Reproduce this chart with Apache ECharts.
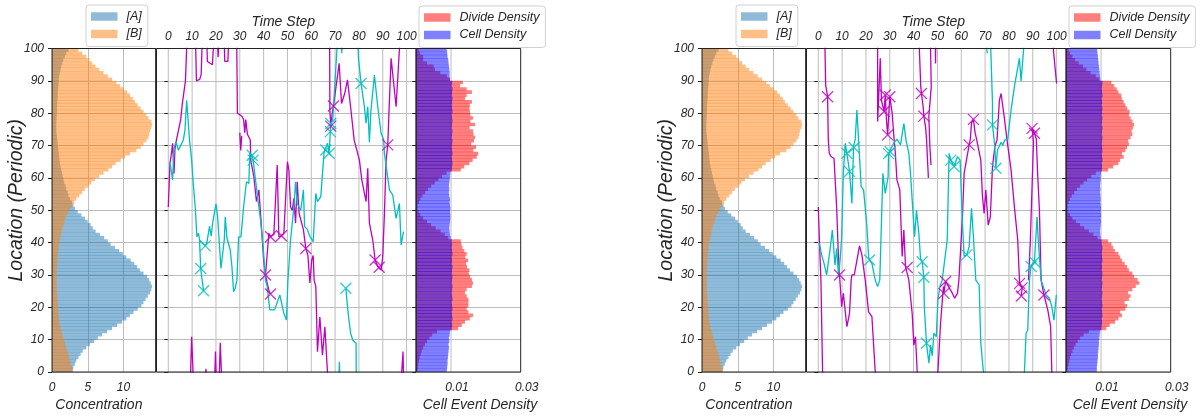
<!DOCTYPE html>
<html>
<head>
<meta charset="utf-8">
<script src="https://cdn.jsdelivr.net/npm/echarts@6/dist/echarts.min.js"></script>
<style>
    html, body { margin: 0; background: #fff; }
    #chart { width: 1201px; height: 418px; }
</style>
</head>
<body>
<div id="chart"></div>
<script>
// location bins 0..99 (one bar per unit of location)
const locBins = Array.from({ length: 100 }, (_, i) => i)
const timeTicks = [0, 10, 20, 30, 40, 50, 60, 70, 80, 90, 100]
const densTicks = [0.01, 0.03]

const concA = [2.9, 3.0, 3.2, 3.4, 3.7, 4.0, 4.3, 4.8, 5.3, 5.9,
    6.4, 7.0, 7.7, 8.4, 9.1, 9.8, 10.4, 10.9, 11.4, 12.0,
    12.5, 12.8, 13.1, 13.4, 13.7, 13.9, 14.0, 13.8, 13.6, 13.3,
    12.8, 12.3, 11.9, 11.5, 11.0, 10.4, 9.9, 9.4, 8.8, 8.2,
    7.8, 7.3, 6.7, 6.1, 5.7, 5.4, 5.0, 4.6, 4.1, 3.6,
    3.2, 3.0, 2.8, 2.5, 2.3, 2.2, 2.0, 1.9, 1.7, 1.6,
    1.5, 1.4, 1.3, 1.2, 1.1, 1.05, 1.0, 0.95, 0.9, 0.85,
    0.8, 0.75, 0.7, 0.65, 0.6, 0.6, 0.6, 0.62, 0.65, 0.67,
    0.7, 0.7, 0.72, 0.75, 0.78, 0.8, 0.82, 0.85, 0.9, 0.92,
    0.95, 1.0, 1.1, 1.2, 1.3, 1.45, 1.6, 1.8, 2.0, 2.3]

const concB = [2.9, 2.8, 2.6, 2.5, 2.4, 2.3, 2.15, 2.0, 1.85, 1.75,
    1.6, 1.45, 1.35, 1.2, 1.1, 1.0, 0.97, 0.93, 0.9, 0.87,
    0.83, 0.8, 0.78, 0.75, 0.72, 0.7, 0.68, 0.66, 0.65, 0.65,
    0.66, 0.68, 0.7, 0.73, 0.76, 0.8, 0.83, 0.87, 0.92, 0.97,
    1.05, 1.15, 1.25, 1.35, 1.45, 1.6, 1.75, 1.9, 2.05, 2.3,
    2.5, 2.8, 3.1, 3.4, 3.8, 4.2, 4.6, 5.1, 5.5, 6.0,
    6.6, 7.2, 7.9, 8.4, 8.9, 9.6, 10.2, 10.9, 11.8, 12.4,
    12.8, 13.2, 13.5, 13.6, 13.7, 13.9, 14.0, 13.9, 13.5, 13.2,
    12.8, 12.4, 12.0, 11.6, 11.3, 10.9, 10.5, 10.0, 9.5, 9.0,
    8.4, 7.8, 7.2, 6.6, 6.1, 5.6, 5.2, 4.8, 4.2, 3.7]

const leftDivide = [0.0004, 0.0005, 0.0006, 0.0008, 0.0010, 0.0013, 0.0016, 0.0020, 0.0025, 0.0031,
    0.0038, 0.0046, 0.0060, 0.0120, 0.0131, 0.0140, 0.0154, 0.0163, 0.0150, 0.0145,
    0.0150, 0.0150, 0.0150, 0.0145, 0.0140, 0.0145, 0.0160, 0.0163, 0.0160, 0.0155,
    0.0151, 0.0153, 0.0146, 0.0143, 0.0149, 0.0141, 0.0145, 0.0138, 0.0133, 0.0130,
    0.0128, 0.0092, 0.0082, 0.0070, 0.0056, 0.0043, 0.0031, 0.0020, 0.0012, 0.0007,
    0.0004, 0.0004, 0.0008, 0.0012, 0.0018, 0.0026, 0.0034, 0.0043, 0.0053, 0.0064,
    0.0074, 0.0087, 0.0128, 0.0138, 0.0153, 0.0162, 0.0174, 0.0178, 0.0164, 0.0172,
    0.0158, 0.0166, 0.0169, 0.0165, 0.0163, 0.0153, 0.0169, 0.0156, 0.0163, 0.0156,
    0.0154, 0.0153, 0.0154, 0.0160, 0.0140, 0.0145, 0.0160, 0.0145, 0.0126, 0.0134,
    0.0097, 0.0088, 0.0069, 0.0054, 0.0050, 0.0031, 0.0020, 0.0020, 0.0011, 0.0007]

const leftCell = [0.0088, 0.0089, 0.0090, 0.0090, 0.0091, 0.0092, 0.0093, 0.0094, 0.0093, 0.0095,
    0.0094, 0.0096, 0.0097, 0.0102, 0.0103, 0.0102, 0.0104, 0.0103, 0.0102, 0.0104,
    0.0103, 0.0102, 0.0104, 0.0103, 0.0102, 0.0103, 0.0104, 0.0102, 0.0103, 0.0104,
    0.0102, 0.0103, 0.0104, 0.0102, 0.0103, 0.0102, 0.0104, 0.0103, 0.0102, 0.0103,
    0.0102, 0.0099, 0.0097, 0.0096, 0.0095, 0.0096, 0.0097, 0.0098, 0.0098, 0.0097,
    0.0098, 0.0097, 0.0096, 0.0097, 0.0095, 0.0094, 0.0095, 0.0094, 0.0095, 0.0096,
    0.0097, 0.0098, 0.0102, 0.0103, 0.0104, 0.0103, 0.0102, 0.0104, 0.0103, 0.0102,
    0.0103, 0.0104, 0.0102, 0.0103, 0.0104, 0.0102, 0.0103, 0.0104, 0.0103, 0.0102,
    0.0104, 0.0103, 0.0102, 0.0103, 0.0104, 0.0102, 0.0103, 0.0104, 0.0102, 0.0103,
    0.0097, 0.0096, 0.0096, 0.0095, 0.0094, 0.0093, 0.0092, 0.0090, 0.0089, 0.0088]

const rightDivide = [0.0004, 0.0005, 0.0007, 0.0009, 0.0011, 0.0014, 0.0018, 0.0022, 0.0027, 0.0033,
    0.0040, 0.0050, 0.0065, 0.0115, 0.0125, 0.0140, 0.0150, 0.0160, 0.0155, 0.0170,
    0.0175, 0.0168, 0.0180, 0.0185, 0.0178, 0.0190, 0.0200, 0.0210, 0.0205, 0.0195,
    0.0190, 0.0180, 0.0175, 0.0168, 0.0160, 0.0155, 0.0150, 0.0140, 0.0135, 0.0130,
    0.0120, 0.0090, 0.0078, 0.0065, 0.0052, 0.0040, 0.0028, 0.0018, 0.0011, 0.0006,
    0.0004, 0.0004, 0.0007, 0.0011, 0.0016, 0.0023, 0.0031, 0.0040, 0.0050, 0.0060,
    0.0072, 0.0085, 0.0120, 0.0135, 0.0150, 0.0155, 0.0165, 0.0160, 0.0170, 0.0175,
    0.0180, 0.0178, 0.0185, 0.0190, 0.0188, 0.0192, 0.0195, 0.0190, 0.0185, 0.0180,
    0.0182, 0.0175, 0.0170, 0.0165, 0.0160, 0.0158, 0.0150, 0.0145, 0.0138, 0.0130,
    0.0095, 0.0085, 0.0070, 0.0058, 0.0048, 0.0036, 0.0026, 0.0018, 0.0011, 0.0007]

const rightCell = [0.0088, 0.0088, 0.0089, 0.0090, 0.0091, 0.0091, 0.0092, 0.0093, 0.0094, 0.0094,
    0.0095, 0.0096, 0.0097, 0.0101, 0.0102, 0.0103, 0.0102, 0.0104, 0.0103, 0.0102,
    0.0104, 0.0103, 0.0102, 0.0103, 0.0104, 0.0102, 0.0103, 0.0104, 0.0102, 0.0103,
    0.0104, 0.0102, 0.0103, 0.0102, 0.0104, 0.0103, 0.0102, 0.0103, 0.0104, 0.0102,
    0.0101, 0.0099, 0.0098, 0.0097, 0.0098, 0.0099, 0.0100, 0.0099, 0.0100, 0.0099,
    0.0100, 0.0099, 0.0098, 0.0099, 0.0098, 0.0097, 0.0098, 0.0097, 0.0098, 0.0099,
    0.0099, 0.0100, 0.0102, 0.0103, 0.0102, 0.0104, 0.0103, 0.0102, 0.0104, 0.0103,
    0.0102, 0.0103, 0.0104, 0.0102, 0.0103, 0.0104, 0.0102, 0.0103, 0.0104, 0.0102,
    0.0103, 0.0104, 0.0102, 0.0103, 0.0102, 0.0104, 0.0103, 0.0102, 0.0103, 0.0104,
    0.0098, 0.0097, 0.0096, 0.0095, 0.0094, 0.0093, 0.0092, 0.0091, 0.0090, 0.0089]

// trajectories: [time step, location]; values past 0/100 get clipped by the axes
const leftMagenta = [
    [[0, 51], [0.7, 64.5], [1.4, 68], [1.8, 70.7], [2.4, 61.4], [2.8, 69], [3.5, 72], [4.2, 71.7], [5.2, 78], [5.9, 83], [6.7, 82.6], [7.2, 90], [7.7, 100], [8.3, 104],
     [11.4, 104], [11.8, 90], [13.2, 90.5], [13.8, 92], [14.3, 104], [16.1, 104], [16.4, 96], [18.5, 95], [19.2, 104], [20.6, 104], [20.9, 97.3], [21.4, 104],
     [23.4, 104], [23.7, 96], [25, 96], [25.4, 104], [28.7, 104], [29, 80], [30, 79.5], [31, 79], [31.6, 78], [32.1, 74], [32.5, 78], [33.2, 73.5], [33.9, 74],
     [34.4, 71.7], [34.6, 65.5], [35.9, 60.4], [37, 52.7], [38, 56.3], [39, 46], [40, 34.6], [40.8, 30], [41.5, 27.5], [42.3, 25], [42.9, 24.1]],
    [[40.8, 30], [42.2, 42.9], [42.9, 41.8], [44.3, 42.5], [45.7, 64], [46.4, 41.8], [47.5, 42.1], [48.5, 42.9], [50, 65], [50.6, 62.4], [51.3, 51], [52, 50],
     [52.7, 53.7], [53.4, 46], [54.1, 58.8], [54.9, 49], [55.6, 49.6], [56.7, 44], [57.7, 38.2], [58.6, 36], [59.4, 27.5], [60.2, 34.6], [60.8, 36], [61.2, 28.4],
     [61.9, 26.4], [62.6, 6.3], [63.6, 17], [64.7, 5.2], [65.7, 14], [66.8, 0], [67.1, -4]],
    [[67.7, 104], [67.8, 81], [68.2, 76], [68.8, 80], [69.3, 82.2], [71.7, 95.4], [72.7, 83], [74, 86], [75.2, 90.3], [76.5, 82], [78, 71.7], [80.2, 65.5],
     [81.2, 59.4], [83, 52.7], [83.7, 63], [84.4, 46], [85.8, 40.8], [86.8, 34.6], [87.9, 32.6], [88.5, 32.4], [89.3, 31.5], [90, 35.7], [90.7, 49], [91.4, 65.5],
     [92.1, 70.2], [92.6, 80], [93.5, 97], [95.6, 82], [97, 100], [97.4, 104]],
    [[30, 74], [30.4, 68.5], [30.8, 73]],
    [[9.2, -4], [9.8, 10.9], [10.6, -4]],
    [[15.4, -4], [15.8, 1], [16.2, -4]],
    [[19.4, -4], [19.8, 6.3], [20.2, -4]],
    [[21.3, -4], [21.8, 9], [22.5, -4]],
    [[97.6, -4], [98.5, 6.3], [98.8, -4]]
]

const leftCyan = [
    [[0.4, 64.5], [1, 63.5], [1.8, 59.4], [2.4, 69], [3.2, 71.2], [4.2, 68.6], [4.9, 69.6], [5.6, 69], [6.3, 71.7], [7, 74.8], [7.7, 84], [8.1, 80], [8.9, 71.7],
     [9.8, 65.5], [10.5, 58], [11.3, 51], [12, 41.8], [12.7, 42.9], [13.1, 40.8], [14, 40], [15.5, 39], [16.2, 40], [17.3, 45], [18, 42], [18.6, 46], [20, 52],
     [20.7, 48], [22.1, 32], [23.5, 41], [23.9, 48], [24.6, 41.5], [25.3, 41], [26, 37.7], [26.7, 32.6], [27.4, 24.8], [28.1, 26], [28.8, 28.4], [29.5, 41.8],
     [30.5, 41.8], [31.6, 51], [32.8, 58.8], [33.8, 58.3], [34.2, 67.6], [35.2, 67], [35.6, 65.5], [36.1, 62.4], [37.3, 55.2], [38.7, 47], [39.8, 38.7],
     [40.8, 28.4], [41.5, 26.4], [42.6, 19.2], [44.6, 19.2], [46.8, 23.8], [48.5, 18.1], [49.6, 16.1], [50.2, 28.4], [50.6, 32.6], [51.3, 40.8], [52.7, 51],
     [53.4, 58.8], [54.1, 52], [55.6, 50], [56.7, 56.3], [57.2, 45], [58.4, 44], [59.5, 41.8], [60.8, 40.3], [61.9, 55.2], [62.6, 52.7], [64, 54.2], [64.7, 61.4],
     [65.4, 68.1], [66.1, 68.6], [66.8, 70.7], [67.5, 67.6], [68, 74.3], [68.2, 76.8], [69, 78], [70.8, 100], [71, 104]],
    [[13.1, 40.8], [13.6, 32], [14.2, 28.4], [14.8, 25.1]],
    [[71.5, -4], [71.8, 3.2], [72.1, -4]],
    [[72.6, 104], [72.8, 98.5], [73, 104]],
    [[74.5, 25.9], [75.5, 18], [76.5, 12], [77.4, 9.9], [78.8, 8.9], [78.9, -4]],
    [[79.5, 104], [79.8, 97], [80.9, 89.2], [82.3, 82], [83, 76.9], [83.7, 82], [84.4, 71], [85, 80.5], [86.5, 91.8], [87.9, 82], [89.3, 73.8], [90.4, 71.7],
     [90.7, 67.6], [92.8, 56.3], [94.2, 54.7], [95.6, 47.5], [96.3, 48], [97, 52.1], [97.7, 39.3], [98.7, 43.4]]
]

const leftMagentaX = [[40.8, 30], [42.9, 24.1], [42.9, 41.8], [47.5, 42.1], [57.7, 38.2], [69.3, 82.2], [68.2, 76], [86.8, 34.6], [88.5, 32.4], [92.1, 70.2]]
const leftCyanX = [[15.5, 39], [13.6, 32], [14.8, 25.1], [35.2, 67], [35.6, 65.5], [66.1, 68.6], [67.5, 67.6], [68, 74.3], [68.2, 76.8], [80.9, 89.2], [74.5, 25.9]]

const rightMagenta = [
    [[2.8, 104], [2.8, 100], [3.1, 88.7], [3.9, 85.1], [4.2, 71.7], [4.6, 67.6], [5.3, 66.6], [6.6, 66], [7, 65.5], [7.7, 51], [8.4, 36.7], [8.9, 30], [9.8, 20.2],
     [10.5, 24.3], [12, 14], [13.1, 18.1], [13.8, 28.4], [14.1, 30], [15.1, 30], [17.3, 39], [18.3, 36.2], [19.7, 28.4], [21.1, 18.6], [22.5, 17.1], [23.9, 0], [24, -4]],
    [[0, 51], [0.5, 40], [1.1, 28.4], [1.8, 0], [1.9, -4]],
    [[24.9, 104], [24.9, 77.4], [25.3, 84], [26, 97], [26.5, 84], [27.6, 80.5], [28.1, 85.6], [28.6, 78], [29.1, 73.3], [29.6, 80], [30, 85.1], [31, 80], [31.8, 72],
     [32.3, 68], [33, 59.4], [34.2, 56.3], [35.2, 35.7], [35.9, 43.9], [36.6, 32.6], [37.3, 32.3], [38, 28.4], [39.4, 18.1], [40.1, 8.3], [40.8, 10.9], [41.5, 0], [41.6, -4]],
    [[42.2, 104], [43, 88.2], [43.3, 86.1], [44, 82], [44.3, 79.1], [45, 75.8], [45.4, 72.2], [45.8, 66], [46.2, 60]],
    [[47, 104], [47.4, 88.2], [46.4, 79], [46.8, 70], [47.3, 64]],
    [[49.1, 104], [49.2, 95.4], [49.3, 104]],
    [[50.2, -4], [50.2, 0], [51.3, 15], [52.5, 26.4], [52.7, 24.3], [53.4, 28], [54.1, 27.4], [56.3, 24.3], [57.2, 22.8], [58.4, 24.3], [59, 28.4], [60.5, 48],
     [61.2, 61.4], [63.3, 70.2], [63.8, 72], [64.3, 77], [65.1, 78.1], [65.8, 74], [66.5, 71.7], [68.2, 65.5], [68.9, 54.2], [69.6, 49], [70.3, 56.3], [71.3, 45.4],
     [72.2, 48], [73.1, 63.5], [74.1, 69.7], [75, 71.7], [76, 84], [76.7, 86.1], [78, 79], [79.2, 71.7], [80.9, 62.4], [82.3, 51], [83.7, 40.8], [84.2, 32],
     [84.5, 27.4], [85.5, 26], [85.2, 23.5]],
    [[88.2, 28.4], [89, 40.8], [90.3, 71.2], [89.7, 75.3], [90.7, 73.8], [91.5, 72], [92, 62], [92.8, 50], [93.5, 28.4], [94.7, 23.8], [96.3, 19.2], [97.5, 14],
     [98, 0], [98.1, -4]],
    [[98.5, 104], [98.6, 100], [100, 89.2]]
]

const rightCyan = [
    [[0.4, 39.8], [1.4, 36.2], [2.4, 33.6], [3.5, 30], [4.9, 37.7], [5.9, 43.9], [7, 33], [7.7, 38.2], [8.5, 29.5], [9.2, 35], [9.8, 41.8], [10.5, 61.4],
     [11.3, 70.7], [12, 67.6], [13.1, 62], [14.1, 52.1], [14.8, 69.7], [15, 69.4], [15.5, 72], [16.2, 81], [16.9, 71.7], [18, 57.3], [19, 56.3], [20.4, 45],
     [21.1, 35.7], [21.5, 34.6], [22.5, 33.6], [23.9, 28.4], [24.9, 26.4], [25.8, 28.4], [27.1, 61.4], [28.1, 55.2], [29.3, 60.4], [29.5, 67.5], [30.2, 68.1],
     [31.6, 70.7], [33, 72], [34.5, 70.2], [35.9, 76.8], [36.8, 71.7], [38, 67.6], [38.7, 61.4], [39.4, 53.2], [40.4, 41.8], [41.2, 50], [42.2, 42.9], [42.9, 35.1],
     [43.6, 34.1], [44.3, 29.3], [44.5, 20], [45.4, 8.9], [46.4, 2.7], [47.1, 8.3], [47.8, 5], [48.5, 12], [49.5, 10.9], [50.2, 22.3], [51, 26.4], [52, 28.4],
     [54.1, 40.8], [54.9, 67.6], [55.6, 65.5], [57, 63.5], [57.7, 63.5], [58.4, 66.6], [59.5, 65.5], [60.5, 46], [61.2, 35.7], [62.3, 36.2], [63.3, 38.7],
     [64.3, 50.6], [65.1, 41.8], [66.1, 28.4], [67.5, 26.9], [68.2, 8.9], [69.3, 0], [69.4, -4]],
    [[70.6, 104], [70.7, 100], [70.9, 98.5]],
    [[72.2, 104], [73.1, 83], [73.1, 76.4], [73.8, 71.7], [74.2, 68], [74.5, 63], [75.2, 68.6], [76.7, 71], [77.4, 70], [78.2, 71.7], [79.5, 72], [80.9, 81],
     [82.3, 88.2], [84.4, 97], [85.1, 90], [86.2, 100], [86.4, 104]],
    [[86.4, -4], [86.5, 0], [87.2, 12], [87.9, 13], [88.6, 28.4], [89.3, 32.6], [90.7, 34.1], [91.8, 48], [92.3, 40.8], [93.5, 28.4], [95.6, 23.8], [97, 22.8],
     [98, 20.2], [98.9, 16], [99.9, 23.8]]
]

const rightMagentaX = [[3.9, 85.1], [8.9, 30], [27.6, 80.5], [28.1, 85.6], [29.1, 73.3], [30, 85.1], [37.3, 32.3], [43.3, 86.1], [44.3, 79.1], [52.7, 24.3],
    [53.4, 28], [63.3, 70.2], [65.1, 78.1], [84.5, 27.4], [85.5, 26], [85.2, 23.5], [89.7, 75.3], [90.7, 73.8], [94.7, 23.8]]
const rightCyanX = [[12, 67.6], [13.1, 62], [15, 69.4], [21.5, 34.6], [30.2, 68.1], [29.5, 67.5], [43.6, 34.1], [44.3, 29.3], [45.4, 8.9], [55.6, 65.5],
    [57, 63.5], [62.3, 36.2], [73.1, 76.4], [74.5, 63], [89.3, 32.6], [90.7, 34.1]]

const FONT = "'Liberation Sans', Arial, sans-serif"
const MAGENTA = '#bf00bf'
const CYAN = '#00bfbf'
const GRID_COLOR = '#bdbdbd'
const XMARK = 'path://M0,0L10,10M10,0L0,10'

const labelStyle = { fontFamily: FONT, fontStyle: 'italic', fontSize: 12, color: '#262626' }
const nameStyle = { fontFamily: FONT, fontStyle: 'italic', fontSize: 14, color: '#262626' }
const gridStyle = { show: true, borderColor: '#222', borderWidth: 1, backgroundColor: 'transparent', z: 10, outerBoundsMode: 'none' }
const yTick = { show: true, inside: false, length: 4, lineStyle: { color: '#222', width: 1 } }

const option = { animation: false, grid: [], xAxis: [], yAxis: [], series: [], legend: [] }

function addPanel(ox, divide, cell, magenta, cyan, magentaX, cyanX) {
    const g = option.grid.length
    const xa = option.xAxis.length
    const ya = option.yAxis.length

    option.grid.push(
        Object.assign({ left: 52 + ox, top: 48.5, width: 103.7, height: 323.5 }, gridStyle),
        Object.assign({ left: 156.5 + ox, top: 48.5, width: 259.5, height: 323.5 }, gridStyle),
        Object.assign({ left: 416.2 + ox, top: 48.5, width: 104.5, height: 323.5 }, gridStyle)
    )

    option.xAxis.push(
        {
            gridIndex: g, type: 'value', min: 0, max: 14.5, interval: 5,
            axisLine: { show: false }, axisTick: { show: false },
            axisLabel: Object.assign({ margin: 10, showMaxLabel: false }, labelStyle),
            splitLine: { lineStyle: { color: GRID_COLOR } },
            name: 'Concentration', nameLocation: 'middle', nameGap: 26, nameMoveOverlap: false,
            nameTextStyle: Object.assign({ padding: [0, 10, 0, 0] }, nameStyle)
        },
        {
            gridIndex: g + 1, type: 'value', position: 'top', min: -4.95, max: 103.95,
            axisLine: { show: false }, axisTick: { show: false }, splitLine: { show: false },
            axisLabel: Object.assign({ margin: 6, customValues: timeTicks }, labelStyle),
            name: 'Time Step', nameLocation: 'middle', nameGap: 19, nameMoveOverlap: false,
            nameTextStyle: Object.assign({ padding: [0, 6, 0, 0] }, nameStyle)
        },
        {
            gridIndex: g + 2, type: 'value', min: 0, max: 0.03,
            axisLine: { show: false }, axisTick: { show: false }, splitLine: { show: false },
            axisLabel: Object.assign({ margin: 10, customValues: densTicks, padding: [0, 0, 0, 12], formatter: v => v.toFixed(2) }, labelStyle),
            name: 'Cell Event Density', nameLocation: 'middle', nameGap: 26, nameMoveOverlap: false,
            nameTextStyle: Object.assign({ padding: [0, 0, 0, 23] }, nameStyle)
        }
    )

    option.yAxis.push(
        {
            gridIndex: g, type: 'value', min: 0, max: 100, interval: 10,
            axisLine: { show: false }, axisTick: yTick,
            axisLabel: Object.assign({ margin: 8 }, labelStyle),
            splitLine: { lineStyle: { color: GRID_COLOR } },
            name: 'Location (Periodic)', nameLocation: 'middle', nameGap: 25, nameMoveOverlap: false,
            nameTextStyle: Object.assign({}, nameStyle, { fontSize: 19.5, padding: [0, 0, 0, 20] })
        },
        { gridIndex: g, type: 'category', data: locBins, show: false },
        {
            gridIndex: g + 1, type: 'value', min: 0, max: 100, interval: 10,
            axisLine: { show: false }, axisTick: yTick, axisLabel: { show: false },
            splitLine: { lineStyle: { color: GRID_COLOR } }
        },
        {
            gridIndex: g + 2, type: 'value', min: 0, max: 100, interval: 10,
            axisLine: { show: false }, axisTick: yTick, axisLabel: { show: false },
            splitLine: { lineStyle: { color: GRID_COLOR } }
        },
        { gridIndex: g + 2, type: 'category', data: locBins, show: false }
    )

    const bar = (name, data, xi, yi, color) => ({
        type: 'bar', name: name, data: data, xAxisIndex: xi, yAxisIndex: yi,
        barWidth: 3.6, barGap: '-100%', silent: true, itemStyle: { color: color }
    })
    option.series.push(
        bar('[A]', concA, xa, ya + 1, 'rgba(31,119,180,0.5)'),
        bar('[B]', concB, xa, ya + 1, 'rgba(255,127,14,0.5)'),
        bar('Divide Density', divide, xa + 2, ya + 4, 'rgba(255,0,0,0.5)'),
        bar('Cell Density', cell, xa + 2, ya + 4, 'rgba(0,0,255,0.5)')
    )

    // vertical grid lines of the middle plot and the 0.01 line of the density plot
    timeTicks.forEach(t => option.series.push({
        type: 'line', xAxisIndex: xa + 1, yAxisIndex: ya + 2, data: [[t, 0], [t, 100]],
        showSymbol: false, silent: true, z: 1, lineStyle: { color: GRID_COLOR, width: 1 }
    }))
    option.series.push({
        type: 'line', xAxisIndex: xa + 2, yAxisIndex: ya + 3, data: [[0.01, 0], [0.01, 100]],
        showSymbol: false, silent: true, z: 1, lineStyle: { color: GRID_COLOR, width: 1 }
    })

    const track = (seg, color) => ({
        type: 'line', xAxisIndex: xa + 1, yAxisIndex: ya + 2, data: seg, clip: true,
        showSymbol: false, silent: true, z: 3, lineStyle: { color: color, width: 1.3 }
    })
    magenta.forEach(seg => option.series.push(track(seg, MAGENTA)))
    cyan.forEach(seg => option.series.push(track(seg, CYAN)))

    const marks = (data, color) => ({
        type: 'scatter', xAxisIndex: xa + 1, yAxisIndex: ya + 2, data: data,
        symbol: XMARK, symbolSize: 11, silent: true, z: 4,
        itemStyle: { color: 'rgba(0,0,0,0)', borderColor: color, borderWidth: 1.3 }
    })
    option.series.push(marks(cyanX, CYAN), marks(magentaX, MAGENTA))

    const legendBase = {
        orient: 'vertical', top: 5, itemWidth: 26.5, itemHeight: 8.5, itemGap: 4.5,
        padding: [5, 6, 6, 5], icon: 'rect', selectedMode: false,
        borderColor: '#d0d0d0', borderWidth: 1, borderRadius: 3, backgroundColor: 'rgba(255,255,255,0.8)',
        textStyle: Object.assign({}, labelStyle, { fontSize: 12.5, padding: [0, 0, 0, 4] })
    }
    option.legend.push(
        Object.assign({}, legendBase, { left: 86 + ox, data: ['[A]', '[B]'] }),
        Object.assign({}, legendBase, { left: 419 + ox, top: 6, data: ['Divide Density', 'Cell Density'] })
    )
}

addPanel(0, leftDivide, leftCell, leftMagenta, leftCyan, leftMagentaX, leftCyanX)
addPanel(650, rightDivide, rightCell, rightMagenta, rightCyan, rightMagentaX, rightCyanX)

const chart = echarts.init(document.getElementById('chart'), null, { renderer: 'canvas' })
chart.setOption(option)
</script>
</body>
</html>
